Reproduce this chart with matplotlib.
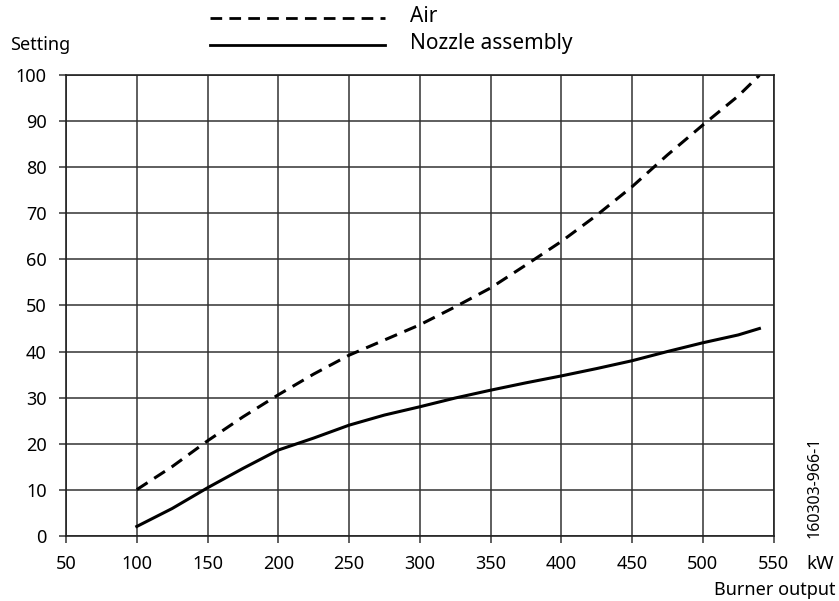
import matplotlib
matplotlib.use("Agg")
import matplotlib.pyplot as plt
from matplotlib.lines import Line2D

plt.rcParams['font.family'] = ['Noto Sans', 'DejaVu Sans']

output_kw = [100, 125, 150, 175, 200, 225, 250, 275, 300, 325, 350, 375, 400, 425, 450, 475, 500, 525, 540]
air = [10, 15.0, 20.6, 25.8, 30.6, 35.1, 39.2, 42.5, 45.8, 49.7, 53.8, 58.8, 63.9, 69.6, 75.8, 82.7, 89.2, 95.5, 100]
nozzle = [2, 5.9, 10.4, 14.6, 18.6, 21.2, 24.0, 26.2, 28.0, 29.9, 31.6, 33.2, 34.7, 36.3, 38.0, 40.0, 41.9, 43.6, 45.0]

x_ticks = [50, 100, 150, 200, 250, 300, 350, 400, 450, 500, 550]
y_ticks = [0, 10, 20, 30, 40, 50, 60, 70, 80, 90, 100]

fig = plt.figure(figsize=(8.39, 6.01), dpi=100)
ax = fig.add_axes([0.0787, 0.1087, 0.922 - 0.0787, 0.8747 - 0.1087])

ax.plot(output_kw, air, color='black', lw=2.2, dashes=(4.2, 2.6), solid_joinstyle='round')
ax.plot(output_kw, nozzle, color='black', lw=2.2, solid_joinstyle='round')

ax.set_xlim(50, 550)
ax.set_ylim(0, 100)
ax.set_xticks(x_ticks)
ax.set_yticks(y_ticks)
ax.grid(True, color='#333333', lw=1.1)
ax.set_axisbelow(True)
for s in ax.spines.values():
    s.set_color('#222222')
    s.set_linewidth(1.2)
ax.tick_params(direction='out', length=5, width=1.1, color='#333333', labelsize=13, pad=9)

fig.text(10 / 839, 1 - 45 / 601, 'Setting', fontsize=13, ha='left', va='center')
fig.text(806 / 839, 1 - 564 / 601, 'kW', fontsize=13.5, ha='left', va='center')
fig.text(836 / 839, 1 - 590 / 601, 'Burner output', fontsize=13, ha='right', va='center')
fig.text(815 / 839, 1 - 487 / 601, '160303-966-1', fontsize=11.5, rotation=90, ha='center', va='center')

# legend
fig.lines.append(Line2D([210 / 839, 385 / 839], [1 - 18 / 601, 1 - 18 / 601], transform=fig.transFigure,
                        color='black', lw=2.0, dashes=(4.2, 2.6)))
fig.lines.append(Line2D([210 / 839, 385 / 839], [1 - 45 / 601, 1 - 45 / 601], transform=fig.transFigure,
                        color='black', lw=2.0))
fig.text(410 / 839, 1 - 17 / 601, 'Air', fontsize=15, ha='left', va='center')
fig.text(410 / 839, 1 - 44 / 601, 'Nozzle assembly', fontsize=15, ha='left', va='center')

fig.savefig('out.png', dpi=100)
